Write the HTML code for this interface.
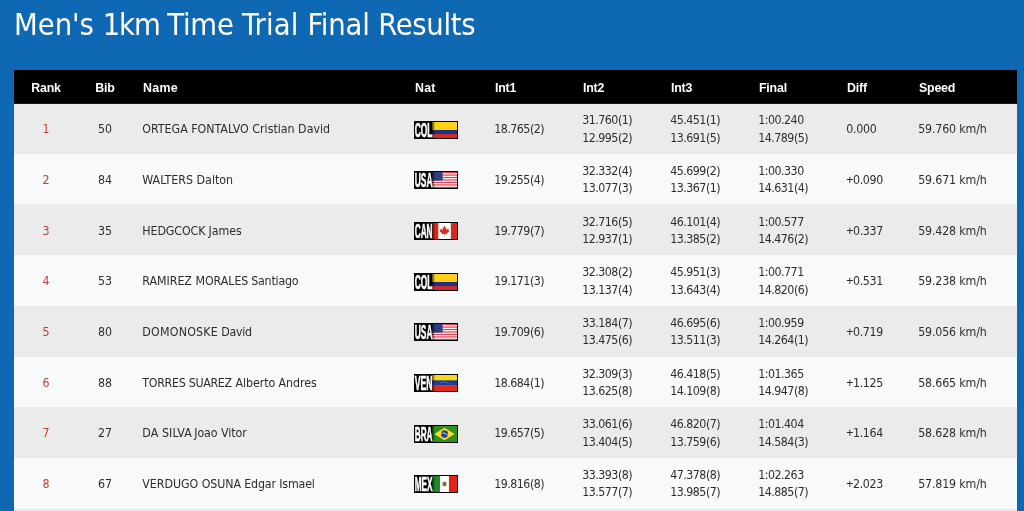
<!DOCTYPE html>
<html lang="en">
<head>
<meta charset="utf-8">
<title>Men's 1km Time Trial Final Results</title>
<style>
html,body{margin:0;padding:0;}
body{width:1024px;height:511px;overflow:hidden;background:#0f68b3;font-family:"DejaVu Sans Condensed","Liberation Sans",sans-serif;color:#2b2d30;position:relative;}
h1{will-change:transform;position:absolute;left:14px;top:7px;margin:0;font-size:30.6px;letter-spacing:-0.27px;line-height:36px;font-weight:400;color:#fff;white-space:nowrap;}
table{will-change:transform;position:absolute;left:14px;top:70px;width:1003px;border-collapse:collapse;table-layout:fixed;font-size:12.3px;line-height:17px;}
th{background:#000;color:#fff;height:29.9px;padding:3.2px 0 0 0;font-weight:700;text-align:left;font-size:12.4px;font-family:"Liberation Sans",sans-serif;letter-spacing:-0.2px;}
td{height:48.11px;padding:2.6px 0 0 0;vertical-align:middle;white-space:nowrap;}
tbody tr:first-child td{background-image:linear-gradient(#000,#000);background-size:100% 0.9px;background-repeat:no-repeat;}
tr.o td{background:#ebebeb;}
tr.e td{background:#f8f9fa;}
.c{text-align:center;}
td.r{color:#bb3f38;}
td.n{letter-spacing:-0.5px;}
td.d{letter-spacing:-0.3px;}
td.s{letter-spacing:-0.15px;}
.pl{font-family:"Liberation Sans",sans-serif;letter-spacing:-0.5px;}
.w{position:relative;left:-0.8px;}
.nm{position:relative;left:-0.7px;}
.w2{top:-0.2px;line-height:17.4px;}
svg.fl{display:block;margin-left:-1px;margin-top:-0.4px;}
</style>
</head>
<body>
<h1><span style="letter-spacing:-0.02px">Men's </span><span style="letter-spacing:-1.08px">1km </span><span style="letter-spacing:-0.27px">Time </span><span style="letter-spacing:0.15px">Trial </span><span style="letter-spacing:-0.19px">Final </span><span style="letter-spacing:-0.34px">Results</span></h1>
<table>
<colgroup><col style="width:64px"><col style="width:54px"><col style="width:11px"><col style="width:272px"><col style="width:80px"><col style="width:88px"><col style="width:88px"><col style="width:88px"><col style="width:88px"><col style="width:72px"><col style="width:98px"></colgroup>
<thead><tr><th class="c">Rank</th><th class="c">Bib</th><th></th><th style="letter-spacing:0.3px">Name</th><th style="letter-spacing:0.2px">Nat</th><th>Int1</th><th>Int2</th><th>Int3</th><th>Final</th><th>Diff</th><th>Speed</th></tr></thead>
<tbody>
<tr class="o"><td class="c r">1</td><td class="c">50</td><td></td><td><div class="nm"><span>ORTEGA FONTALVO</span> <span>Cristian David</span></div></td><td><svg class="fl" width="44" height="18" viewBox="0 0 44 18" role="img" aria-label="COL"><rect width="44" height="18" fill="#000"/><g transform="translate(18 1) scale(0.9615 1)"><rect width="26" height="16" fill="#fcd116"/><rect y="8" width="26" height="4" fill="#22308c"/><rect y="12" width="26" height="4" fill="#ce2a26"/></g><rect x="18" y="1" width="1" height="16" fill="#000" opacity="0.6"/><rect x="19" y="1" width="1" height="16" fill="#000" opacity="0.35"/><rect x="20" y="1" width="1" height="16" fill="#000" opacity="0.15"/><text x="0.7" y="16.2" font-family="Liberation Sans, sans-serif" font-weight="700" font-size="20.5" fill="#fff" stroke="#fff" stroke-width="0.65" textLength="17.8" lengthAdjust="spacingAndGlyphs">COL</text></svg></td><td class="n"><div class="w">18.765(2)</div></td><td class="n"><div class="w w2">31.760(1)<br>12.995(2)</div></td><td class="n"><div class="w w2">45.451(1)<br>13.691(5)</div></td><td class="n"><div class="w w2">1:00.240<br>14.789(5)</div></td><td class="n d"><div class="w">0.000</div></td><td class="s"><div class="w">59.760 km/h</div></td></tr>
<tr class="e"><td class="c r">2</td><td class="c">84</td><td></td><td><div class="nm"><span>WALTERS</span> <span>Dalton</span></div></td><td><svg class="fl" width="44" height="18" viewBox="0 0 44 18" role="img" aria-label="USA"><rect width="44" height="18" fill="#000"/><g transform="translate(18 1) scale(0.9615 1)"><rect width="26" height="16" fill="#fff"/><rect y="0.00" width="26" height="1.23" fill="#d8414f"/><rect y="2.46" width="26" height="1.23" fill="#d8414f"/><rect y="4.92" width="26" height="1.23" fill="#d8414f"/><rect y="7.38" width="26" height="1.23" fill="#d8414f"/><rect y="9.85" width="26" height="1.23" fill="#d8414f"/><rect y="12.31" width="26" height="1.23" fill="#d8414f"/><rect y="14.77" width="26" height="1.23" fill="#d8414f"/><rect width="11" height="8.6" fill="#2e3c80"/></g><rect x="18" y="1" width="1" height="16" fill="#000" opacity="0.6"/><rect x="19" y="1" width="1" height="16" fill="#000" opacity="0.35"/><rect x="20" y="1" width="1" height="16" fill="#000" opacity="0.15"/><text x="0.7" y="16.2" font-family="Liberation Sans, sans-serif" font-weight="700" font-size="20.5" fill="#fff" stroke="#fff" stroke-width="0.65" textLength="17.8" lengthAdjust="spacingAndGlyphs">USA</text></svg></td><td class="n"><div class="w">19.255(4)</div></td><td class="n"><div class="w w2">32.332(4)<br>13.077(3)</div></td><td class="n"><div class="w w2">45.699(2)<br>13.367(1)</div></td><td class="n"><div class="w w2">1:00.330<br>14.631(4)</div></td><td class="n d"><div class="w"><span class="pl">+</span>0.090</div></td><td class="s"><div class="w">59.671 km/h</div></td></tr>
<tr class="o"><td class="c r">3</td><td class="c">35</td><td></td><td><div class="nm"><span style="letter-spacing:-0.1px">HEDGCOCK</span> <span style="margin-left:-0.4px">James</span></div></td><td><svg class="fl" width="44" height="18" viewBox="0 0 44 18" role="img" aria-label="CAN"><rect width="44" height="18" fill="#000"/><g transform="translate(18 1) scale(0.9615 1)"><rect width="26" height="16" fill="#fff"/><rect width="6.6" height="16" fill="#d52b1e"/><rect x="19.6" width="6.4" height="16" fill="#d52b1e"/><path fill="#d52b1e" transform="translate(13 8.1) scale(0.04 0.038) translate(-315 -235)" d="M201.3 232l-13 4 61 54c5 14-1 18-5 25l66-8-2 67 14-1-3-66 66 8c-4-8-8-13-4-27l61-51-11-4c-8-7 4-32 6-48 0 0-36 12-38 6l-9-17-33 35c-3 1-5 0-6-3l15-74-24 13c-2 1-4 0-5-2l-23-46-24 48c-2 2-4 2-5 1l-23-13 14 75c-1 3-4 4-7 2l-32-36c-4 7-7 18-12 20-6 3-24-4-36-7 4 15 17 40 12 45z"/></g><rect x="18" y="1" width="1" height="16" fill="#000" opacity="0.6"/><rect x="19" y="1" width="1" height="16" fill="#000" opacity="0.35"/><rect x="20" y="1" width="1" height="16" fill="#000" opacity="0.15"/><text x="0.7" y="16.2" font-family="Liberation Sans, sans-serif" font-weight="700" font-size="20.5" fill="#fff" stroke="#fff" stroke-width="0.65" textLength="17.8" lengthAdjust="spacingAndGlyphs">CAN</text></svg></td><td class="n"><div class="w">19.779(7)</div></td><td class="n"><div class="w w2">32.716(5)<br>12.937(1)</div></td><td class="n"><div class="w w2">46.101(4)<br>13.385(2)</div></td><td class="n"><div class="w w2">1:00.577<br>14.476(2)</div></td><td class="n d"><div class="w"><span class="pl">+</span>0.337</div></td><td class="s"><div class="w">59.428 km/h</div></td></tr>
<tr class="e"><td class="c r">4</td><td class="c">53</td><td></td><td><div class="nm"><span style="letter-spacing:-0.03px">RAMIREZ MORALES</span> <span style="margin-left:-0.7px;letter-spacing:-0.2px">Santiago</span></div></td><td><svg class="fl" width="44" height="18" viewBox="0 0 44 18" role="img" aria-label="COL"><rect width="44" height="18" fill="#000"/><g transform="translate(18 1) scale(0.9615 1)"><rect width="26" height="16" fill="#fcd116"/><rect y="8" width="26" height="4" fill="#22308c"/><rect y="12" width="26" height="4" fill="#ce2a26"/></g><rect x="18" y="1" width="1" height="16" fill="#000" opacity="0.6"/><rect x="19" y="1" width="1" height="16" fill="#000" opacity="0.35"/><rect x="20" y="1" width="1" height="16" fill="#000" opacity="0.15"/><text x="0.7" y="16.2" font-family="Liberation Sans, sans-serif" font-weight="700" font-size="20.5" fill="#fff" stroke="#fff" stroke-width="0.65" textLength="17.8" lengthAdjust="spacingAndGlyphs">COL</text></svg></td><td class="n"><div class="w">19.171(3)</div></td><td class="n"><div class="w w2">32.308(2)<br>13.137(4)</div></td><td class="n"><div class="w w2">45.951(3)<br>13.643(4)</div></td><td class="n"><div class="w w2">1:00.771<br>14.820(6)</div></td><td class="n d"><div class="w"><span class="pl">+</span>0.531</div></td><td class="s"><div class="w">59.238 km/h</div></td></tr>
<tr class="o"><td class="c r">5</td><td class="c">80</td><td></td><td><div class="nm"><span style="letter-spacing:0.22px">DOMONOSKE</span> <span style="margin-left:-0.2px;letter-spacing:-0.3px">David</span></div></td><td><svg class="fl" width="44" height="18" viewBox="0 0 44 18" role="img" aria-label="USA"><rect width="44" height="18" fill="#000"/><g transform="translate(18 1) scale(0.9615 1)"><rect width="26" height="16" fill="#fff"/><rect y="0.00" width="26" height="1.23" fill="#d8414f"/><rect y="2.46" width="26" height="1.23" fill="#d8414f"/><rect y="4.92" width="26" height="1.23" fill="#d8414f"/><rect y="7.38" width="26" height="1.23" fill="#d8414f"/><rect y="9.85" width="26" height="1.23" fill="#d8414f"/><rect y="12.31" width="26" height="1.23" fill="#d8414f"/><rect y="14.77" width="26" height="1.23" fill="#d8414f"/><rect width="11" height="8.6" fill="#2e3c80"/></g><rect x="18" y="1" width="1" height="16" fill="#000" opacity="0.6"/><rect x="19" y="1" width="1" height="16" fill="#000" opacity="0.35"/><rect x="20" y="1" width="1" height="16" fill="#000" opacity="0.15"/><text x="0.7" y="16.2" font-family="Liberation Sans, sans-serif" font-weight="700" font-size="20.5" fill="#fff" stroke="#fff" stroke-width="0.65" textLength="17.8" lengthAdjust="spacingAndGlyphs">USA</text></svg></td><td class="n"><div class="w">19.709(6)</div></td><td class="n"><div class="w w2">33.184(7)<br>13.475(6)</div></td><td class="n"><div class="w w2">46.695(6)<br>13.511(3)</div></td><td class="n"><div class="w w2">1:00.959<br>14.264(1)</div></td><td class="n d"><div class="w"><span class="pl">+</span>0.719</div></td><td class="s"><div class="w">59.056 km/h</div></td></tr>
<tr class="e"><td class="c r">6</td><td class="c">88</td><td></td><td><div class="nm"><span style="letter-spacing:-0.29px">TORRES SUAREZ</span> <span style="letter-spacing:-0.05px">Alberto Andres</span></div></td><td><svg class="fl" width="44" height="18" viewBox="0 0 44 18" role="img" aria-label="VEN"><rect width="44" height="18" fill="#000"/><g transform="translate(18 1) scale(0.9615 1)"><rect width="26" height="16" fill="#f7d917"/><rect y="5.33" width="26" height="5.34" fill="#1d3a94"/><rect y="10.67" width="26" height="5.33" fill="#de2a1d"/><path d="M8.6 9.3a4.6 3.4 0 0 1 8.8 0" fill="none" stroke="#8fa6dd" stroke-width="0.9" stroke-dasharray="0.9 0.6"/></g><rect x="18" y="1" width="1" height="16" fill="#000" opacity="0.6"/><rect x="19" y="1" width="1" height="16" fill="#000" opacity="0.35"/><rect x="20" y="1" width="1" height="16" fill="#000" opacity="0.15"/><text x="0.7" y="16.2" font-family="Liberation Sans, sans-serif" font-weight="700" font-size="20.5" fill="#fff" stroke="#fff" stroke-width="0.65" textLength="17.8" lengthAdjust="spacingAndGlyphs">VEN</text></svg></td><td class="n"><div class="w">18.684(1)</div></td><td class="n"><div class="w w2">32.309(3)<br>13.625(8)</div></td><td class="n"><div class="w w2">46.418(5)<br>14.109(8)</div></td><td class="n"><div class="w w2">1:01.365<br>14.947(8)</div></td><td class="n d"><div class="w"><span class="pl">+</span>1.125</div></td><td class="s"><div class="w">58.665 km/h</div></td></tr>
<tr class="o"><td class="c r">7</td><td class="c">27</td><td></td><td><div class="nm"><span style="letter-spacing:0.09px">DA SILVA</span> <span style="margin-left:-1.2px;letter-spacing:-0.05px">Joao Vitor</span></div></td><td><svg class="fl" width="44" height="18" viewBox="0 0 44 18" role="img" aria-label="BRA"><rect width="44" height="18" fill="#000"/><g transform="translate(18 1) scale(0.9615 1)"><rect width="26" height="16" fill="#2f8f1f"/><path d="M13 1.8 23.6 8 13 14.2 2.4 8z" fill="#f8df26"/><circle cx="13" cy="8" r="3.7" fill="#1f3f96"/><path d="M9.5 7.2a7 7 0 0 1 7.1 2" fill="none" stroke="#dfe8f5" stroke-width="0.8"/></g><rect x="18" y="1" width="1" height="16" fill="#000" opacity="0.6"/><rect x="19" y="1" width="1" height="16" fill="#000" opacity="0.35"/><rect x="20" y="1" width="1" height="16" fill="#000" opacity="0.15"/><text x="0.7" y="16.2" font-family="Liberation Sans, sans-serif" font-weight="700" font-size="20.5" fill="#fff" stroke="#fff" stroke-width="0.65" textLength="17.8" lengthAdjust="spacingAndGlyphs">BRA</text></svg></td><td class="n"><div class="w">19.657(5)</div></td><td class="n"><div class="w w2">33.061(6)<br>13.404(5)</div></td><td class="n"><div class="w w2">46.820(7)<br>13.759(6)</div></td><td class="n"><div class="w w2">1:01.404<br>14.584(3)</div></td><td class="n d"><div class="w"><span class="pl">+</span>1.164</div></td><td class="s"><div class="w">58.628 km/h</div></td></tr>
<tr class="e"><td class="c r">8</td><td class="c">67</td><td></td><td><div class="nm"><span style="letter-spacing:-0.04px">VERDUGO OSUNA</span> <span style="margin-left:-0.45px;letter-spacing:-0.15px">Edgar Ismael</span></div></td><td><svg class="fl" width="44" height="18" viewBox="0 0 44 18" role="img" aria-label="MEX"><rect width="44" height="18" fill="#000"/><g transform="translate(18 1) scale(0.9615 1)"><rect width="26" height="16" fill="#fff"/><rect width="8.4" height="16" fill="#1d8a2b"/><rect x="17.6" width="8.4" height="16" fill="#e2231a"/><ellipse cx="13" cy="8" rx="2.3" ry="2.5" fill="#9a7a4a"/><circle cx="13" cy="7.3" r="1" fill="#6b4a22"/></g><rect x="18" y="1" width="1" height="16" fill="#000" opacity="0.6"/><rect x="19" y="1" width="1" height="16" fill="#000" opacity="0.35"/><rect x="20" y="1" width="1" height="16" fill="#000" opacity="0.15"/><text x="0.7" y="16.2" font-family="Liberation Sans, sans-serif" font-weight="700" font-size="20.5" fill="#fff" stroke="#fff" stroke-width="0.65" textLength="17.8" lengthAdjust="spacingAndGlyphs">MEX</text></svg></td><td class="n"><div class="w">19.816(8)</div></td><td class="n"><div class="w w2">33.393(8)<br>13.577(7)</div></td><td class="n"><div class="w w2">47.378(8)<br>13.985(7)</div></td><td class="n"><div class="w w2">1:02.263<br>14.885(7)</div></td><td class="n d"><div class="w"><span class="pl">+</span>2.023</div></td><td class="s"><div class="w">57.819 km/h</div></td></tr>
<tr class="o"><td>&nbsp;</td><td>&nbsp;</td><td>&nbsp;</td><td>&nbsp;</td><td>&nbsp;</td><td>&nbsp;</td><td>&nbsp;</td><td>&nbsp;</td><td>&nbsp;</td><td>&nbsp;</td><td>&nbsp;</td></tr>
</tbody>
</table>
</body>
</html>
